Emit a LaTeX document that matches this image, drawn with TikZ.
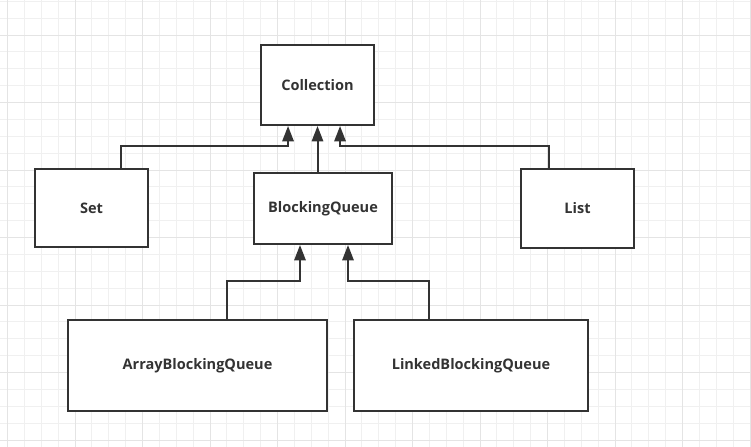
\documentclass[tikz,border=0pt]{standalone}
\usepackage{fontspec}
\setmainfont{Open Sans}
\usetikzlibrary{arrows.meta}
\definecolor{linec}{HTML}{333333}
\definecolor{gridminor}{HTML}{F0F0F0}
\definecolor{gridmajor}{HTML}{E4E4E4}
\begin{document}
\begin{tikzpicture}[x=.75pt,y=-.75pt,
  box/.style 2 args={draw=linec,line width=1.5pt,fill=white,text=linec,
    font=\fontsize{10.9}{12}\selectfont\bfseries,
    minimum width=#1*.75pt,minimum height=#2*.75pt,inner sep=0pt},
  inh/.style={draw=linec,line width=1.5pt,-{Triangle[length=11.5pt,width=8.5pt]}}]
  \useasboundingbox (0,0) rectangle (751,447);
  % grid
  \foreach \k in {0,...,44} \draw[gridminor,line width=.75pt] (7.5+16.875*\k,0) -- (7.5+16.875*\k,447);
  \foreach \k in {0,...,26} \draw[gridminor,line width=.75pt] (0,1.25+16.875*\k) -- (751,1.25+16.875*\k);
  \foreach \k in {0,4,...,44} \draw[gridmajor,line width=.75pt] (7.5+16.875*\k,0) -- (7.5+16.875*\k,447);
  \foreach \k in {2,6,...,26} \draw[gridmajor,line width=.75pt] (0,1.25+16.875*\k) -- (751,1.25+16.875*\k);
  % classes
  \node[box={113}{80}] at (317.5,85) (coll) {Collection};
  \node[box={113}{78}] at (91.5,208) (set) {Set};
  \node[box={138}{71}] at (323,208.5) (bq) {BlockingQueue};
  \node[box={113}{79}] at (577.5,208.5) (list) {List};
  \node[box={259}{91}] at (197.5,365.5) (abq) {ArrayBlockingQueue};
  \node[box={234}{91}] at (471,365.5) (lbq) {LinkedBlockingQueue};
  % inheritance
  \draw[inh] ([xshift=22.1pt]set.north) -- ++(0,-22) -| ([xshift=-22.1pt]coll.south);
  \draw[inh] (bq.north -| coll.south) -- (coll.south);
  \draw[inh] ([xshift=-21.4pt]list.north) -- ++(0,-22) -| ([xshift=16.9pt]coll.south);
  \draw[inh] ([xshift=22.1pt]abq.north) -- ++(0,-38) -| ([xshift=-17.25pt]bq.south);
  \draw[inh] ([xshift=-31.5pt]lbq.north) -- ++(0,-38) -| ([xshift=18.75pt]bq.south);
\end{tikzpicture}
\end{document}
